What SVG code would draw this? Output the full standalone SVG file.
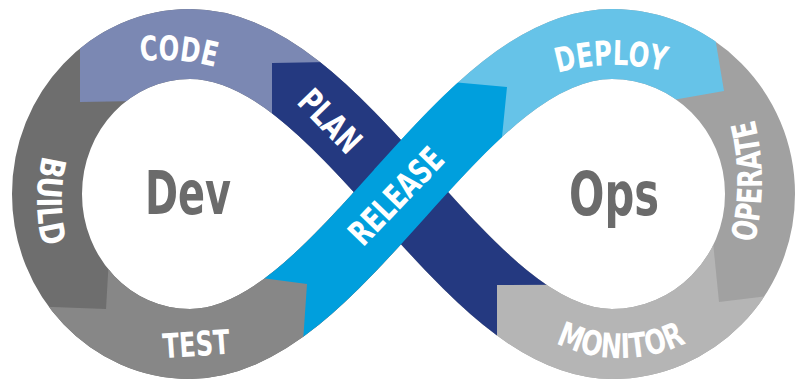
<svg xmlns="http://www.w3.org/2000/svg" xmlns:xlink="http://www.w3.org/1999/xlink" width="802" height="380" viewBox="0 0 802 380">
<style>
.band{fill:none;stroke-width:70;stroke-linecap:butt}
.lbl{font-family:"Liberation Sans Narrow","DejaVu Sans Condensed","Roboto Condensed","Liberation Sans",sans-serif;font-weight:bold;font-size:34px;fill:#ffffff}
.big{font-family:"Liberation Sans Narrow","DejaVu Sans Condensed","Roboto Condensed","Liberation Sans",sans-serif;font-weight:bold;font-size:61px;fill:#6b6b6b}
</style>
<defs>
<path id="loopA" d="M401,192 C331,114 265,44 190,44 C111,44 47,111 47,194 C47,277 111,344 190,344 C265,344 331,270 401,192"/>
<path id="loopB" d="M401,192 C471,114 537,44 612,44 C693,44 760,111 760,194 C760,277 693,344 612,344 C537,344 471,270 401,192"/>
<path id="planP" d="M612,344 C537,344 471,270 401,192 C331,114 265,44 190,44"/>
<path id="relP" d="M190,344 C265,344 331,270 401,192 C471,114 537,44 612,44"/>
<clipPath id="cCode"><polygon points="80,-10 80,102 140,101 200,194 401,194 401,-10"/></clipPath>
<clipPath id="cTest"><polygon points="0,305 106,309 110,240 401,200 401,400 0,400"/></clipPath>
<clipPath id="cDeploy"><polygon points="401,-10 709,-10 716,43 724,91 650,104 612,194 401,194"/></clipPath>
<clipPath id="cMonitor"><polygon points="401,194 700,194 711,220 714,252 719,302 802,292 802,400 401,400"/></clipPath>
<clipPath id="cPlan"><polygon points="272,400 272,63 330,62 330,-10 700,-10 700,284 497,285 497,400"/></clipPath>
<clipPath id="cRelease"><polygon points="230,274 307,284 299,400 498,400 498,180 502,137 507,87 430,80"/></clipPath>
<path id="tCode" d="M62,86.8 A200,200 0 0 1 262,86.8"/>
<path id="tDeploy" d="M514,91.8 A200,200 0 0 1 714,91.8"/>
<path id="tMonitor" d="M521,319.8 A150,150 0 0 0 721,319.8"/>
<path id="tBuild" d="M67.3,101 A180,180 0 0 0 67.3,301"/>
<path id="tOperate" d="M741.1,281 A250,250 0 0 0 741.1,81"/>
</defs>

<g id="build">
<use xlink:href="#loopA" href="#loopA" class="band" stroke="#6e6e6e"/>
<text class="lbl" text-anchor="middle" textLength="92" lengthAdjust="spacingAndGlyphs"><textPath xlink:href="#tBuild" href="#tBuild" startOffset="50%">BUILD</textPath></text>
</g>
<g id="code">
<use xlink:href="#loopA" href="#loopA" class="band" stroke="#7b88b3" clip-path="url(#cCode)"/>
<text class="lbl" text-anchor="middle" textLength="75" lengthAdjust="spacingAndGlyphs"><textPath xlink:href="#tCode" href="#tCode" startOffset="120.7">CODE</textPath></text>
</g>
<g id="test">
<use xlink:href="#loopA" href="#loopA" class="band" stroke="#878787" clip-path="url(#cTest)"/>
<text class="lbl" transform="translate(197,356) rotate(-4)" text-anchor="middle" textLength="67" lengthAdjust="spacingAndGlyphs">TEST</text>
</g>
<g id="operate">
<use xlink:href="#loopB" href="#loopB" class="band" stroke="#a1a1a1"/>
<text class="lbl" text-anchor="middle" textLength="125" lengthAdjust="spacingAndGlyphs"><textPath xlink:href="#tOperate" href="#tOperate" startOffset="50%">OPERATE</textPath></text>
</g>
<g id="deploy">
<use xlink:href="#loopB" href="#loopB" class="band" stroke="#66c3e8" clip-path="url(#cDeploy)"/>
<text class="lbl" text-anchor="middle" textLength="108" lengthAdjust="spacingAndGlyphs"><textPath xlink:href="#tDeploy" href="#tDeploy" startOffset="101.7">DEPLOY</textPath></text>
</g>
<g id="monitor">
<use xlink:href="#loopB" href="#loopB" class="band" stroke="#b5b5b5" clip-path="url(#cMonitor)"/>
<text class="lbl" text-anchor="middle" textLength="135" lengthAdjust="spacingAndGlyphs"><textPath xlink:href="#tMonitor" href="#tMonitor" startOffset="50%">MONITOR</textPath></text>
</g>
<g id="plan">
<use xlink:href="#planP" href="#planP" class="band" stroke="#243980" clip-path="url(#cPlan)"/>
<text class="lbl" transform="translate(330,121) rotate(46)" x="0" y="12" text-anchor="middle" textLength="74" lengthAdjust="spacingAndGlyphs">PLAN</text>
</g>
<g id="release">
<use xlink:href="#relP" href="#relP" class="band" stroke="#009fdd" clip-path="url(#cRelease)"/>
<text class="lbl" transform="translate(396,196) rotate(-46)" x="0" y="12" text-anchor="middle" textLength="120" lengthAdjust="spacingAndGlyphs">RELEASE</text>
</g>
<g id="dev">
<text class="big" x="145" y="214" textLength="86" lengthAdjust="spacingAndGlyphs">Dev</text>
</g>
<g id="ops">
<text class="big" x="569" y="215" textLength="90" lengthAdjust="spacingAndGlyphs">Ops</text>
</g>
</svg>
